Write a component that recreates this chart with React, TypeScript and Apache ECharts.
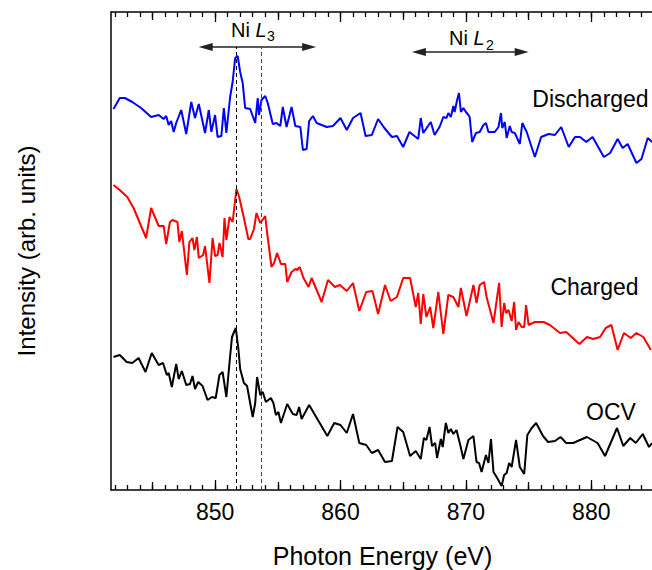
import React, { useEffect, useRef } from 'react';
import * as echarts from 'echarts';

const FONT = '"Liberation Sans", Arial, Helvetica, sans-serif';

const X_MIN = 841.7;
const X_MAX = 885;
const Y_MIN = 0;
const Y_MAX = 47.8;

const majorTicks = [850, 860, 870, 880];
const mediumTicks = [845, 855, 865, 875];
const minorTicks = [842, 843, 844, 845, 846, 847, 848, 849, 850, 851, 852, 853, 854, 855, 856, 857, 858, 859, 860, 861, 862, 863, 864, 865, 866, 867, 868, 869, 870, 871, 872, 873, 874, 875, 876, 877, 878, 879, 880, 881, 882, 883, 884];

const peakLines = [851.7, 853.7];
const peakLineTop = 44.3;
const l3Arrow = [849.25, 857.5];
const l3ArrowY = 44.3;
const l2Arrow = [866.25, 874.45];
const l2ArrowY = 43.8;

const discharged = [[841.9,38.1],[842.4,39.2],[842.8,39.2],[843.4,38.8],[844.1,38.2],[844.9,37.3],[845.5,37.5],[845.9,37.1],[846.1,37.4],[846.3,36.5],[846.5,36.9],[846.7,35.8],[846.9,36.7],[847.3,38.0],[847.7,35.6],[848.1,38.8],[848.4,37.2],[848.7,38.6],[849.2,35.7],[849.5,38.0],[849.7,35.8],[850.0,37.5],[850.2,35.3],[850.5,35.4],[850.7,38.2],[850.9,35.7],[851.2,39.3],[851.4,40.8],[851.6,43.2],[851.8,43.4],[852.0,41.8],[852.2,40.7],[852.4,38.2],[852.8,38.1],[853.2,36.7],[853.4,39.2],[853.5,37.5],[853.7,39.0],[854.0,39.4],[854.2,38.7],[854.6,36.6],[854.9,36.7],[855.2,36.4],[855.4,38.3],[855.7,36.3],[856.1,38.3],[856.4,36.4],[856.8,36.3],[857.0,34.0],[857.3,34.1],[857.5,36.9],[857.8,37.4],[858.1,36.7],[858.9,36.3],[859.4,36.4],[860.0,37.2],[860.5,36.0],[861.0,37.2],[861.6,37.7],[862.0,35.4],[862.5,35.5],[863.0,37.1],[863.5,36.2],[864.1,35.3],[864.5,35.4],[865.0,34.3],[865.5,35.8],[865.9,35.4],[866.2,35.1],[866.4,37.2],[866.6,35.7],[867.2,36.8],[867.5,35.5],[867.9,36.3],[868.2,37.3],[868.45,37.2],[868.6,37.7],[868.8,37.3],[869.0,38.4],[869.1,37.8],[869.3,39.0],[869.45,39.7],[869.6,37.8],[869.8,38.2],[870.0,37.8],[870.2,37.5],[870.3,37.3],[870.5,34.8],[870.8,35.7],[871.1,35.8],[871.4,36.5],[871.6,36.7],[871.8,35.8],[872.3,35.8],[872.6,36.3],[872.8,37.7],[872.9,36.2],[873.1,36.8],[873.25,35.2],[873.5,36.4],[873.65,35.8],[873.9,35.7],[874.3,34.6],[874.5,36.7],[874.85,35.8],[875.5,33.3],[876.0,35.3],[876.6,35.6],[877.1,35.5],[877.6,36.3],[878.2,34.3],[878.7,35.3],[879.1,35.3],[879.6,34.8],[880.1,35.3],[881.0,33.3],[881.5,33.7],[882.1,35.1],[882.5,34.2],[882.9,34.6],[883.6,32.7],[884.0,33.1],[884.5,35.2],[884.85,34.8]];

const charged = [[841.9,30.5],[842.4,30.0],[843.0,29.3],[843.5,28.2],[844.0,26.7],[844.5,25.2],[844.9,28.2],[845.5,26.4],[845.9,26.4],[846.1,24.6],[846.4,26.8],[846.6,27.0],[847.0,26.8],[847.15,24.8],[847.35,25.9],[847.75,21.5],[847.95,24.8],[848.2,25.2],[848.35,24.0],[848.55,25.3],[848.7,23.2],[849.05,23.5],[849.2,24.4],[849.55,20.7],[849.8,25.2],[850.0,23.4],[850.2,23.5],[850.35,24.7],[850.6,23.3],[850.75,27.2],[850.9,25.0],[851.15,27.3],[851.4,26.8],[851.7,30.1],[851.9,29.4],[852.3,27.2],[852.65,25.1],[852.8,25.1],[853.1,26.1],[853.3,27.7],[853.6,26.7],[854.0,27.4],[854.15,25.7],[854.5,22.3],[854.7,22.7],[854.95,23.7],[855.25,22.6],[855.6,22.6],[855.75,20.8],[856.1,21.8],[856.4,22.1],[856.55,22.0],[856.75,22.3],[857.05,21.2],[857.45,20.3],[857.7,21.2],[858.5,18.8],[859.0,21.0],[859.55,20.3],[859.95,20.5],[860.5,19.9],[861.0,20.7],[861.5,17.9],[862.05,19.8],[862.55,19.9],[863.0,17.6],[863.55,20.5],[864.0,18.9],[864.5,19.3],[865.0,21.2],[865.55,21.2],[866.0,18.3],[866.2,19.7],[866.4,16.6],[866.6,19.6],[866.85,17.3],[867.15,18.3],[867.4,16.2],[867.8,19.8],[868.2,15.6],[868.6,19.5],[869.0,19.3],[869.4,18.3],[869.6,20.2],[870.05,17.4],[870.6,20.5],[870.85,18.7],[871.1,20.5],[871.45,20.8],[871.65,19.3],[872.2,16.7],[872.65,20.7],[872.85,16.3],[873.05,18.7],[873.2,17.7],[873.4,18.0],[873.65,16.9],[873.85,18.8],[874.0,16.0],[874.2,16.8],[874.45,16.3],[874.65,16.3],[874.8,18.5],[875.0,16.5],[875.5,16.8],[876.2,16.8],[876.7,16.5],[877.5,15.7],[878.0,15.8],[879.05,14.6],[879.65,15.3],[880.15,15.1],[880.7,15.3],[881.15,16.2],[881.6,16.5],[882.1,14.0],[882.6,15.7],[883.15,15.2],[883.6,15.7],[884.15,15.3],[884.75,14.0]];

const ocv = [[841.9,13.3],[842.4,13.5],[842.95,12.8],[843.4,12.7],[843.9,13.2],[844.45,11.8],[844.95,13.7],[845.5,12.5],[845.85,12.7],[846.15,11.5],[846.3,11.7],[846.55,10.3],[846.9,12.6],[847.1,11.1],[847.35,11.9],[847.7,10.5],[848.0,10.6],[848.2,11.4],[848.4,10.1],[848.65,10.8],[849.0,10.4],[849.4,9.0],[849.75,9.3],[850.05,9.2],[850.35,11.5],[850.6,11.8],[850.9,9.3],[851.2,13.4],[851.35,15.3],[851.65,16.2],[851.85,14.2],[852.0,12.1],[852.3,10.7],[852.55,10.4],[853.0,7.3],[853.2,8.7],[853.35,11.3],[853.6,9.5],[853.8,9.8],[854.05,8.8],[854.45,9.2],[854.65,8.7],[854.85,7.5],[855.05,7.8],[855.25,6.7],[855.75,8.6],[856.2,7.6],[856.5,7.5],[856.7,8.3],[856.9,7.1],[857.5,8.5],[858.95,5.4],[859.5,6.7],[860.0,6.5],[860.5,5.7],[861.0,7.6],[861.5,4.7],[862.05,4.5],[862.5,3.7],[863.0,4.0],[863.55,2.8],[864.1,2.9],[864.55,6.3],[865.0,5.8],[865.55,3.4],[866.0,3.9],[866.4,3.1],[866.65,5.2],[866.85,5.0],[867.1,6.3],[867.3,4.4],[867.55,4.7],[867.7,3.2],[868.0,5.1],[868.15,4.3],[868.4,6.7],[868.6,5.7],[868.8,6.1],[869.0,5.6],[869.25,6.0],[869.55,4.5],[869.8,3.1],[870.2,5.0],[870.6,5.4],[870.85,2.8],[871.05,2.7],[871.25,1.8],[871.6,3.5],[871.8,2.7],[872.0,5.1],[872.2,1.8],[872.45,1.3],[872.85,0.4],[873.05,1.5],[873.25,1.7],[873.45,2.7],[873.65,2.3],[874.0,5.0],[874.3,2.3],[874.65,1.6],[874.9,5.5],[875.25,6.2],[875.6,6.7],[876.15,5.4],[876.55,4.8],[877.1,4.9],[877.55,5.3],[878.0,4.7],[878.55,4.7],[879.65,5.3],[880.5,4.7],[881.1,3.4],[882.05,6.2],[882.55,4.4],[883.1,5.2],[883.55,4.7],[884.1,5.6],[884.6,4.3],[884.85,4.7]];

function tickAxis(position: 'top' | 'bottom', values: number[], length: number, main: boolean): any {
  return {
    type: 'value',
    min: X_MIN,
    max: X_MAX,
    position,
    axisLine: { show: main, lineStyle: { color: '#000', width: 1.5 } },
    axisTick: { show: true, inside: true, length, customValues: values, lineStyle: { color: '#000', width: 1.3 } },
    axisLabel: { show: false },
    splitLine: { show: false },
    minorTick: { show: false },
  };
}

export default function App() {
  const ref = useRef<HTMLDivElement>(null);
  useEffect(() => {
    if (!ref.current) return;
    const chart = echarts.init(ref.current, undefined, { renderer: 'svg' });
    const bottomMain = tickAxis('bottom', majorTicks, 10, true);
    bottomMain.axisLabel = { show: true, customValues: majorTicks, fontSize: 23, color: '#000', fontFamily: FONT, margin: 10 };
    bottomMain.name = 'Photon Energy (eV)';
    bottomMain.nameLocation = 'middle';
    bottomMain.nameGap = 53;
    bottomMain.nameTextStyle = { fontSize: 25, color: '#000', fontFamily: FONT };

    const option: any = {
      animation: false,
      backgroundColor: '#fff',
      grid: { left: 111, right: -2, top: 12, bottom: 80, containLabel: false, outerBoundsMode: 'none' },
      xAxis: [
        bottomMain,
        tickAxis('bottom', mediumTicks, 8, false),
        tickAxis('bottom', minorTicks, 5, false),
        tickAxis('top', majorTicks, 10, true),
        tickAxis('top', mediumTicks, 8, false),
        tickAxis('top', minorTicks, 5, false),
      ],
      yAxis: {
        type: 'value',
        min: Y_MIN,
        max: Y_MAX,
        axisLine: { show: true, lineStyle: { color: '#000', width: 1.5 } },
        axisTick: { show: false },
        axisLabel: { show: false },
        splitLine: { show: false },
        name: 'Intensity (arb. units)',
        nameLocation: 'middle',
        nameGap: 73,
        nameTextStyle: { fontSize: 24, color: '#000', fontFamily: FONT },
      },
      series: [
        {
          name: 'Discharged',
          type: 'line',
          data: discharged,
          showSymbol: false,
          lineStyle: { color: '#0000ff', width: 2 },
          itemStyle: { color: '#0000ff' },
          markLine: {
            silent: true,
            symbol: ['triangle', 'triangle'],
            symbolSize: [8, 14],
            label: { show: false },
            lineStyle: { color: '#222', width: 1.5, type: 'solid' },
            data: [
              [{ coord: [l3Arrow[0], l3ArrowY] }, { coord: [l3Arrow[1], l3ArrowY] }],
              [{ coord: [l2Arrow[0], l2ArrowY] }, { coord: [l2Arrow[1], l2ArrowY] }],
            ],
          },
        },
        {
          name: 'Charged',
          type: 'line',
          data: charged,
          showSymbol: false,
          lineStyle: { color: '#ff0000', width: 2 },
          itemStyle: { color: '#ff0000' },
        },
        {
          name: 'OCV',
          type: 'line',
          data: ocv,
          showSymbol: false,
          lineStyle: { color: '#000', width: 2 },
          itemStyle: { color: '#000' },
          markLine: {
            silent: true,
            symbol: ['none', 'none'],
            label: { show: false },
            lineStyle: { color: '#000', width: 1, type: [4, 3] },
            data: [
              [{ coord: [peakLines[0], Y_MIN] }, { coord: [peakLines[0], peakLineTop] }],
              [{ coord: [peakLines[1], Y_MIN], lineStyle: { color: '#444', width: 1, type: [4, 3] } }, { coord: [peakLines[1], peakLineTop] }],
            ],
          },
        },
      ],
      graphic: [
        { type: 'text', x: 231, y: 29.5, style: { text: '{n|Ni }{l|L}', rich: { n: { fontSize: 20, fontFamily: FONT, fill: '#000' }, l: { fontSize: 20, fontFamily: FONT, fontStyle: 'italic', fill: '#000' } }, align: 'left', verticalAlign: 'middle' } },
        { type: 'text', x: 267, y: 36, style: { text: '3', fontSize: 14, fontFamily: FONT, fill: '#000', align: 'left', verticalAlign: 'middle' } },
        { type: 'text', x: 449, y: 38, style: { text: '{n|Ni }{l|L}', rich: { n: { fontSize: 20, fontFamily: FONT, fill: '#000' }, l: { fontSize: 20, fontFamily: FONT, fontStyle: 'italic', fill: '#000' } }, align: 'left', verticalAlign: 'middle' } },
        { type: 'text', x: 486, y: 44.5, style: { text: '2', fontSize: 14, fontFamily: FONT, fill: '#000', align: 'left', verticalAlign: 'middle' } },
        { type: 'text', x: 590.5, y: 99, style: { text: 'Discharged', fontSize: 23, fontFamily: FONT, fill: '#000', align: 'center', verticalAlign: 'middle' } },
        { type: 'text', x: 594.5, y: 286.5, style: { text: 'Charged', fontSize: 23, fontFamily: FONT, fill: '#000', align: 'center', verticalAlign: 'middle' } },
        { type: 'text', x: 611, y: 411.5, style: { text: 'OCV', fontSize: 23, fontFamily: FONT, fill: '#000', align: 'center', verticalAlign: 'middle' } },
      ],
    };
    chart.setOption(option);
    return () => chart.dispose();
  }, []);
  return <div ref={ref} style={{ position: 'fixed', left: 0, top: 0, width: 652, height: 570, overflow: 'hidden' }} />;
}
